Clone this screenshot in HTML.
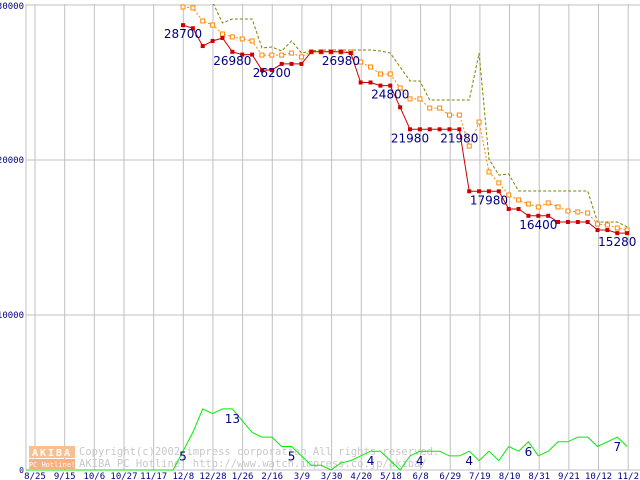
<!DOCTYPE html>
<html><head><meta charset="utf-8"><style>
html,body{margin:0;padding:0;background:#fff;}
svg{display:block;font-family:"DejaVu Sans Mono","Liberation Mono",monospace;}
</style></head><body>
<svg id="chart" width="640" height="480" viewBox="0 0 640 480" xmlns="http://www.w3.org/2000/svg">
<defs><clipPath id="plotclip"><rect x="26" y="4" width="614" height="467"/></clipPath></defs>
<g id="grid"></g>
<g id="watermark">
  <rect x="29" y="446" width="46" height="12" fill="#f8c090"/>
  <text x="52" y="456" font-size="10" fill="#fff" text-anchor="middle" font-weight="bold" letter-spacing="2">AKIBA</text>
  <rect x="29" y="459" width="46" height="10" fill="#f8b080"/>
  <text x="52" y="467" font-size="7" fill="#fff" text-anchor="middle">PC Hotline!</text>
  <text x="79" y="455" font-size="10.5" fill="#c8c8c8">Copyright(c)2002 impress corporation All rights reserved.</text>
  <text x="79" y="467" font-size="10.5" fill="#c8c8c8">AKIBA PC Hotline!  http://www.watch.impress.co.jp/akiba/</text>
</g>
<g id="series" clip-path="url(#plotclip)"></g>
<g id="labels"></g>
<g id="axes"></g>
</svg>
<script>
const xLabels=["8/25","9/15","10/6","10/27","11/17","12/8","12/28","1/26","2/16","3/9","3/30","4/20","5/18","6/8","6/29","7/19","8/10","8/31","9/21","10/12","11/2"];
const yTicks=[0,10000,20000,30000];
const minPrice=[28700,28500,27350,27680,27870,26980,26800,26800,25800,25800,26200,26200,26200,26980,26980,26980,26980,26900,25000,25000,24800,24800,23400,21980,21980,21980,21980,21980,21980,17980,17980,17980,17980,16840,16840,16400,16400,16400,16000,16000,16000,16000,15480,15480,15280,15280];
const avgPrice=[29870,29810,28970,28710,28130,27940,27810,27680,26770,26770,26770,26900,26650,26980,26980,26980,26980,26970,26320,26000,25550,25550,24650,23940,23940,23350,23350,22900,22900,20900,22450,19230,18520,17740,17420,17160,16970,17230,16970,16710,16650,16580,15870,15810,15610,15480];
const maxPrice=[32260,31610,30970,30190,28840,29100,29100,29100,27230,27290,27030,27680,26900,27030,27100,27100,27100,27100,27100,27100,27030,26900,26000,25100,25100,23870,23870,23870,23870,23870,26900,20060,19030,19100,18000,18000,18000,18000,18000,18000,18000,18000,16000,16000,16000,15680];
const shopCount=[0,0,0,0,0,0,0,0,0,0,0,0,0,0,0,0,4,8,13,12,13,13,10.5,8,7,7,5,5,3,1,1,0,1.5,2,3,4,4,2,0,3,4,4,4,3,3,4,2,4,2,5,4,6,3,4,6,6,7,7,5,6,7,5];
const priceNotes=[[0,28700],[5,26980],[9,26200],[16,26980],[21,24800],[23,21980],[28,21980],[31,17980],[36,16400],[44,15280]];
const countNotes=[[16,5],[21,13],[27,5],[35,4],[40,4],[45,4],[51,6],[60,7]];

const NS="http://www.w3.org/2000/svg";
const X0=183, STEP=9.87, Y0=470, PPU=155/10000, CPU=4.7;
const px=i=>X0+i*STEP;
const py=v=>Y0-v*PPU;
const cx=i=>X0+(i-16)*STEP;
const cy=c=>Y0-c*CPU;
function mk(tag,attrs,parent){const e=document.createElementNS(NS,tag);for(const k in attrs)e.setAttribute(k,attrs[k]);parent.appendChild(e);return e;}
const grid=document.getElementById('grid'),series=document.getElementById('series'),labels=document.getElementById('labels'),axes=document.getElementById('axes');
const gx=i=>35+i*29.66;
xLabels.forEach((l,i)=>{
  const ln=mk('line',{x1:gx(i),x2:gx(i),y1:4,y2:470,stroke:'#c0c0c0','stroke-width':1},grid);
  
  
  const t=mk('text',{x:gx(i),y:479,'font-size':9,fill:'#000080','text-anchor':'middle'},axes);
  t.textContent=l;
  
  
});
yTicks.forEach(v=>{
  const ln=mk('line',{x1:26,x2:640,y1:py(v),y2:py(v),stroke:'#c0c0c0','stroke-width':1},grid);
  
  
  const t=mk('text',{x:24,y:py(v)+(v===30000?4:3),'font-size':v===0?8:9,fill:'#000080','text-anchor':'end'},axes);
  t.textContent=v;
  
  
});
const yax=mk('line',{x1:26,x2:26,y1:4,y2:470,stroke:'#c0c0c0'},grid);



function poly(arr,fx,fy,attrs,name){
  const p=mk('polyline',Object.assign({points:arr.map((v,i)=>fx(i)+','+fy(v)).join(' '),fill:'none'},attrs),series);
  
  
}
poly(shopCount,cx,cy,{stroke:'#00ee00','stroke-width':1},'shop-count-line');
poly(maxPrice,px,py,{stroke:'#808000','stroke-width':1,'stroke-dasharray':'3,2'},'max-price-line');
poly(avgPrice,px,py,{stroke:'#ff8800','stroke-width':1,'stroke-dasharray':'2,2'},'avg-price-line');
avgPrice.forEach((v,i)=>{
  const r=mk('rect',{x:px(i)-2,y:py(v)-2,width:4,height:4,fill:'#fff',stroke:'#ff8800','stroke-width':1},series);
  
  
});
poly(minPrice,px,py,{stroke:'#cc0000','stroke-width':1},'min-price-line');
minPrice.forEach((v,i)=>{
  const r=mk('rect',{x:px(i)-2,y:py(v)-2,width:4,height:4,fill:'#cc0000'},series);
  
  
});
priceNotes.forEach(([i,v])=>{
  const t=mk('text',{x:px(i),y:py(v)+13,'font-size':12,fill:'#000080','text-anchor':'middle',"font-family":'"DejaVu Sans",sans-serif'},labels);
  t.textContent=v;
  
  
});
countNotes.forEach(([i,c])=>{
  const t=mk('text',{x:cx(i),y:cy(c)+14,'font-size':12,fill:'#000080','text-anchor':'middle',"font-family":'"DejaVu Sans",sans-serif'},labels);
  t.textContent=c;
  
  
});
</script>
</body></html>
